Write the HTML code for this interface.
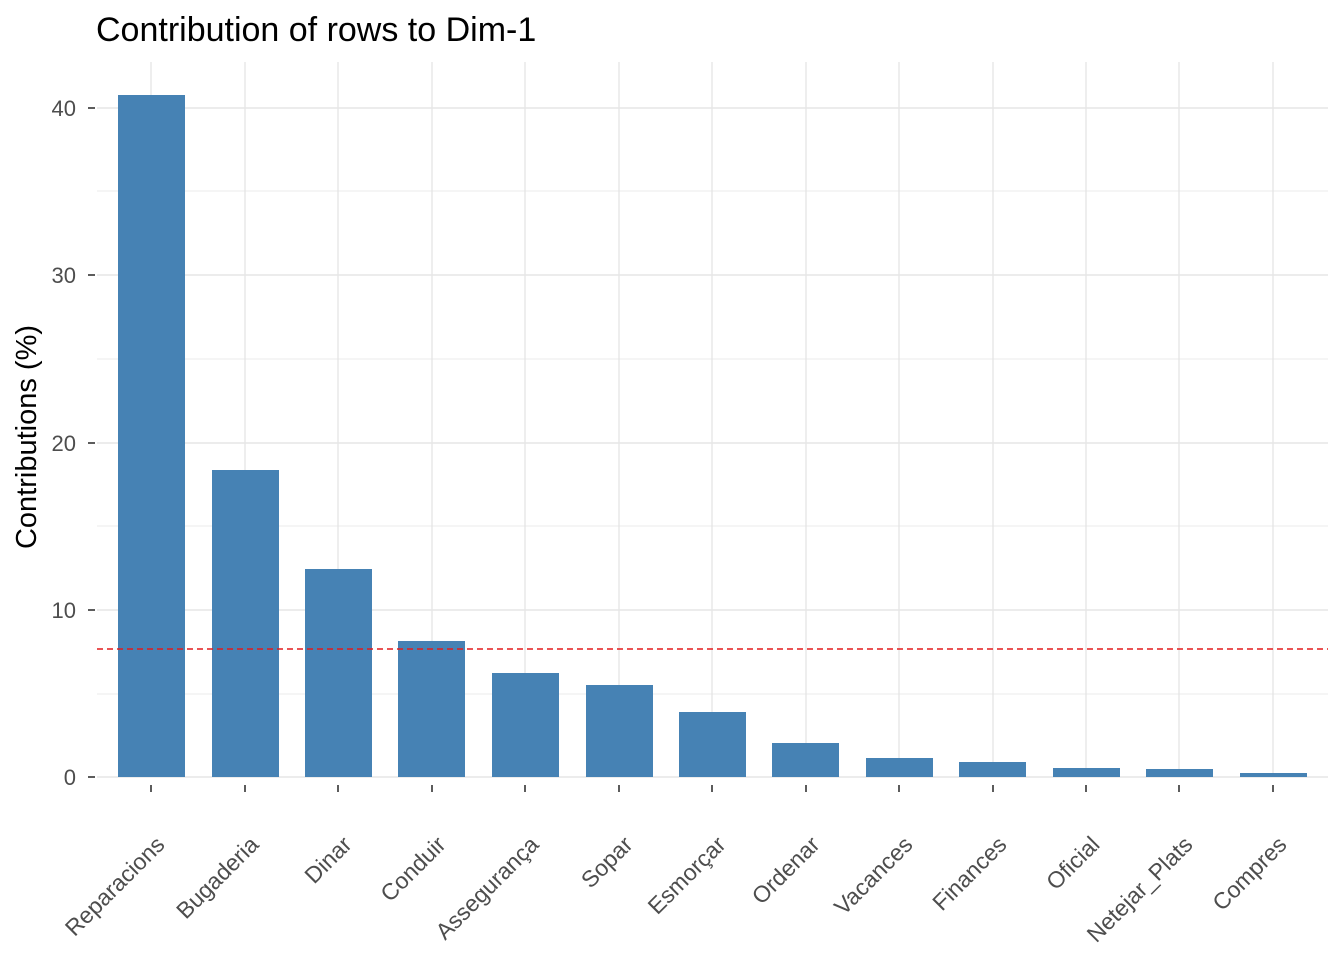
<!DOCTYPE html>
<html><head><style>body{margin:0;background:#fff}</style></head><body>
<svg width="1344" height="960" xmlns="http://www.w3.org/2000/svg" font-family="Liberation Sans, Arial, sans-serif">
<rect width="1344" height="960" fill="#fff"/>
<g stroke="#ebebeb" stroke-width="1">
<line x1="97" x2="1328" y1="191" y2="191"/><line x1="97" x2="1328" y1="359" y2="359"/>
<line x1="97" x2="1328" y1="526" y2="526"/><line x1="97" x2="1328" y1="694" y2="694"/>
</g>
<g stroke="#e6e6e6" stroke-width="1.4">
<line x1="97" x2="1328" y1="108" y2="108"/><line x1="97" x2="1328" y1="275" y2="275"/>
<line x1="97" x2="1328" y1="443" y2="443"/><line x1="97" x2="1328" y1="610" y2="610"/>
<line x1="97" x2="1328" y1="777" y2="777"/>
<line x1="151" x2="151" y1="62" y2="777"/><line x1="245" x2="245" y1="62" y2="777"/>
<line x1="338" x2="338" y1="62" y2="777"/><line x1="432" x2="432" y1="62" y2="777"/>
<line x1="525" x2="525" y1="62" y2="777"/><line x1="619" x2="619" y1="62" y2="777"/>
<line x1="712" x2="712" y1="62" y2="777"/><line x1="806" x2="806" y1="62" y2="777"/>
<line x1="899" x2="899" y1="62" y2="777"/><line x1="993" x2="993" y1="62" y2="777"/>
<line x1="1086" x2="1086" y1="62" y2="777"/><line x1="1179" x2="1179" y1="62" y2="777"/>
<line x1="1273" x2="1273" y1="62" y2="777"/>
</g>
<g fill="#4682b4">
<rect x="118" y="95" width="67" height="682"/>
<rect x="212" y="470" width="67" height="307"/>
<rect x="305" y="569" width="67" height="208"/>
<rect x="398" y="641" width="67" height="136"/>
<rect x="492" y="673" width="67" height="104"/>
<rect x="586" y="685" width="67" height="92"/>
<rect x="679" y="712" width="67" height="65"/>
<rect x="772" y="743" width="67" height="34"/>
<rect x="866" y="758" width="67" height="19"/>
<rect x="959" y="762" width="67" height="15"/>
<rect x="1053" y="768" width="67" height="9"/>
<rect x="1146" y="769" width="67" height="8"/>
<rect x="1240" y="773" width="67" height="4"/>
</g>
<line x1="97" x2="1328" y1="649" y2="649" stroke="#e41a1c" stroke-width="1.6" stroke-dasharray="6,4"/>
<g stroke="#333" stroke-width="1.6">
<line x1="88" x2="95" y1="108" y2="108"/><line x1="88" x2="95" y1="275" y2="275"/>
<line x1="88" x2="95" y1="443" y2="443"/><line x1="88" x2="95" y1="610" y2="610"/>
<line x1="88" x2="95" y1="777" y2="777"/>
<line x1="151" x2="151" y1="785" y2="792"/><line x1="245" x2="245" y1="785" y2="792"/>
<line x1="338" x2="338" y1="785" y2="792"/><line x1="432" x2="432" y1="785" y2="792"/>
<line x1="525" x2="525" y1="785" y2="792"/><line x1="619" x2="619" y1="785" y2="792"/>
<line x1="712" x2="712" y1="785" y2="792"/><line x1="806" x2="806" y1="785" y2="792"/>
<line x1="899" x2="899" y1="785" y2="792"/><line x1="993" x2="993" y1="785" y2="792"/>
<line x1="1086" x2="1086" y1="785" y2="792"/><line x1="1179" x2="1179" y1="785" y2="792"/>
<line x1="1273" x2="1273" y1="785" y2="792"/>
</g>
<g font-size="22" fill="#4d4d4d" text-anchor="end">
<text x="76" y="116">40</text><text x="76" y="283">30</text><text x="76" y="451">20</text>
<text x="76" y="618">10</text><text x="76" y="785">0</text>
</g>
<g font-size="23" fill="#4d4d4d" text-anchor="end">
<text transform="translate(166,846) rotate(-45)">Reparacions</text>
<text transform="translate(260,846) rotate(-45)">Bugaderia</text>
<text transform="translate(353,846) rotate(-45)">Dinar</text>
<text transform="translate(447,846) rotate(-45)">Conduir</text>
<text transform="translate(540,846) rotate(-45)">Assegurança</text>
<text transform="translate(634,846) rotate(-45)">Sopar</text>
<text transform="translate(727,846) rotate(-45)">Esmorçar</text>
<text transform="translate(821,846) rotate(-45)">Ordenar</text>
<text transform="translate(914,846) rotate(-45)">Vacances</text>
<text transform="translate(1008,846) rotate(-45)">Finances</text>
<text transform="translate(1101,846) rotate(-45)">Oficial</text>
<text transform="translate(1194,846) rotate(-45)">Netejar_Plats</text>
<text transform="translate(1288,846) rotate(-45)">Compres</text>
</g>
<text transform="translate(36,437) rotate(-90)" font-size="29" text-anchor="middle" fill="#000">Contributions (%)</text>
<text x="96" y="41" font-size="34" fill="#000">Contribution of rows to Dim-1</text>
</svg>
</body></html>
